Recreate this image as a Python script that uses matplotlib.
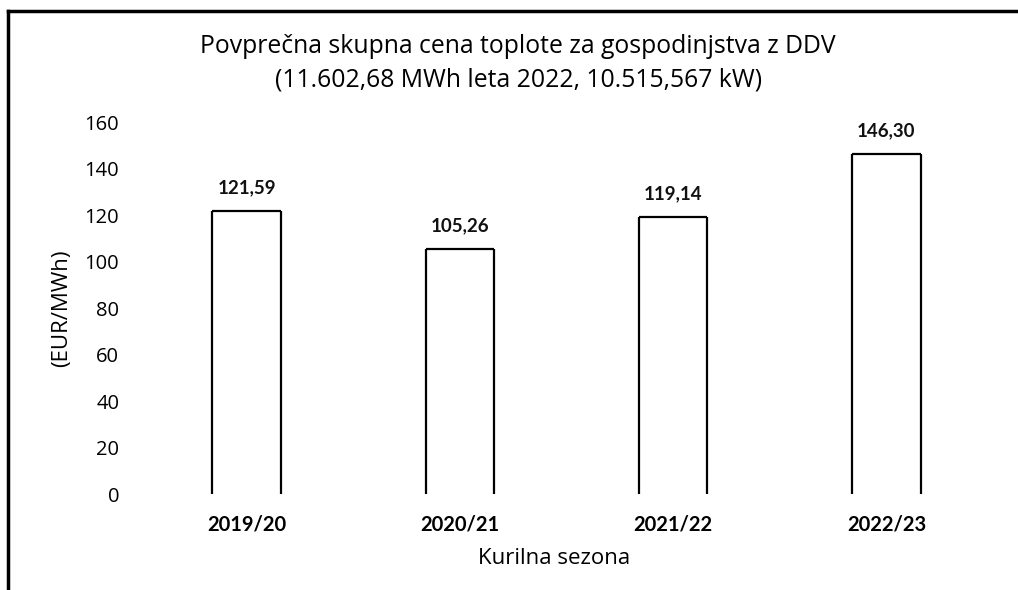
import matplotlib.pyplot as plt
from matplotlib.lines import Line2D
import numpy as np

# --- data ---
seasons = ["2019/20", "2020/21", "2021/22", "2022/23"]
prices = [121.59, 105.26, 119.14, 146.30]
y_ticks = [0, 20, 40, 60, 80, 100, 120, 140, 160]

plt.rcParams['font.family'] = ['Open Sans', 'DejaVu Sans']
bold_font = ['Lato', 'DejaVu Sans']

fig = plt.figure(figsize=(10.18, 5.90), dpi=100)
ax = fig.add_axes([0.1375, 0.1627, 0.838, 0.6305])

x = np.arange(len(seasons))
w = 0.32
ax.bar(x, prices, width=w, color='white', edgecolor='none')
# outline without bottom edge, like the scanned original
ax.vlines(x - w / 2, 0, prices, color='black', lw=1.6)
ax.vlines(x + w / 2, 0, prices, color='black', lw=1.6)
ax.hlines(prices, x - w / 2, x + w / 2, color='black', lw=1.6)

for xi, v in zip(x, prices):
    ax.text(xi, v + 6.5, f"{v:.2f}".replace('.', ','), ha='center', va='bottom',
            fontsize=13.5, fontweight='bold', family=bold_font, color='#111111')

ax.set_xlim(-0.5, len(seasons) - 0.5)
ax.set_ylim(0, 160)
ax.set_yticks(y_ticks)
ax.set_yticklabels([str(t) for t in y_ticks], fontsize=14.5)
ax.set_xticks(x)
ax.set_xticklabels(seasons, fontsize=14.5, fontweight='bold', family=bold_font)
ax.tick_params(length=0)
ax.tick_params(axis='y', pad=15)
ax.tick_params(axis='x', pad=15)
for s in ax.spines.values():
    s.set_visible(False)

ax.set_xlabel("Kurilna sezona", fontsize=16)
ax.xaxis.set_label_coords(0.486, -0.145)
ax.set_ylabel("(EUR/MWh)", fontsize=16, labelpad=9)

fig.text(0.509, 0.921, "Povprečna skupna cena toplote za gospodinjstva z DDV",
         ha='center', va='center', fontsize=17.8)
fig.text(0.509, 0.865, "(11.602,68 MWh leta 2022, 10.515,567 kW)",
         ha='center', va='center', fontsize=17.8)

# border lines (top and left, as in scan)
fig.add_artist(Line2D([0.008, 1.0], [0.981, 0.981], color='black', lw=2.5))
fig.add_artist(Line2D([0.008, 0.008], [0.0, 0.981], color='black', lw=2.5))

fig.savefig("out.png", dpi=100, facecolor='white')
